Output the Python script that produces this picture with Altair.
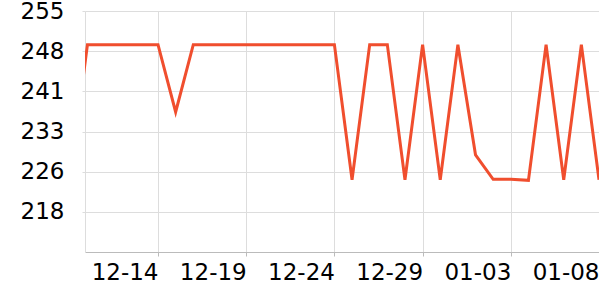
import altair as alt
import pandas as pd

dates = [
    "2023-12-09", "2023-12-10", "2023-12-11", "2023-12-12", "2023-12-13",
    "2023-12-14", "2023-12-15", "2023-12-16", "2023-12-17", "2023-12-18",
    "2023-12-19", "2023-12-20", "2023-12-21", "2023-12-22", "2023-12-23",
    "2023-12-24", "2023-12-25", "2023-12-26", "2023-12-27", "2023-12-28",
    "2023-12-29", "2023-12-30", "2023-12-31", "2024-01-01", "2024-01-02",
    "2024-01-03", "2024-01-04", "2024-01-05", "2024-01-06", "2024-01-07",
    "2024-01-08",
]
values = [
    224.3, 249.2, 249.2, 249.2, 249.2,
    249.2, 236.8, 249.2, 249.2, 249.2,
    249.2, 249.2, 249.2, 249.2, 249.2,
    249.2, 224.3, 249.2, 249.2, 224.3,
    249.2, 224.3, 249.2, 228.9, 224.4,
    224.4, 224.2, 249.2, 224.3, 249.2,
    224.3,
]
y_ticks = [218.4, 225.8, 233.2, 240.6, 248.0, 255.4]
x_ticks = [(2023, 12, 14), (2023, 12, 19), (2023, 12, 24), (2023, 12, 29),
           (2024, 1, 3), (2024, 1, 8)]

df = pd.DataFrame({"date": dates, "value": values})

x_axis = alt.Axis(
    values=[alt.DateTime(year=y, month=m, date=d, utc=True) for y, m, d in x_ticks],
    format="%m-%d",
    labelAlign="right",
    labelBaseline="top",
    labelFont="DejaVu Sans",
    labelFontSize=23,
    labelColor="#000000",
    labelPadding=5,
    tickSize=4,
    tickColor="#bbbbbb",
    domainColor="#bbbbbb",
    gridColor="#dddddd",
    title=None,
    labelOverlap=False,
)
y_axis = alt.Axis(
    values=y_ticks,
    format=".0f",
    labelFont="DejaVu Sans",
    labelFontSize=23,
    labelColor="#000000",
    labelPadding=18,
    tickSize=3,
    tickColor="#dddddd",
    domainColor="#dddddd",
    gridColor="#dddddd",
    title=None,
    labelOverlap=False,
)

chart = alt.Chart(df).mark_line(
    color="#f04e2e", strokeWidth=3, clip=True
).encode(
    x=alt.X("date:T", axis=x_axis, scale=alt.Scale(
        type="utc",
        domain=[alt.DateTime(year=2023, month=12, date=9, hours=20, minutes=40, utc=True),
                alt.DateTime(year=2024, month=1, date=8, utc=True)],
        nice=False)),
    y=alt.Y("value:Q", axis=y_axis,
            scale=alt.Scale(domain=[211.0, 255.4], nice=False, zero=False)),
).properties(
    width=514, height=241,
    autosize=alt.AutoSizeParams(type="none"),
    padding={"left": 85, "top": 11, "right": 0, "bottom": 48},
).configure_view(stroke=None)

chart.save("out.html", embed_options={"renderer": "svg", "actions": False})
